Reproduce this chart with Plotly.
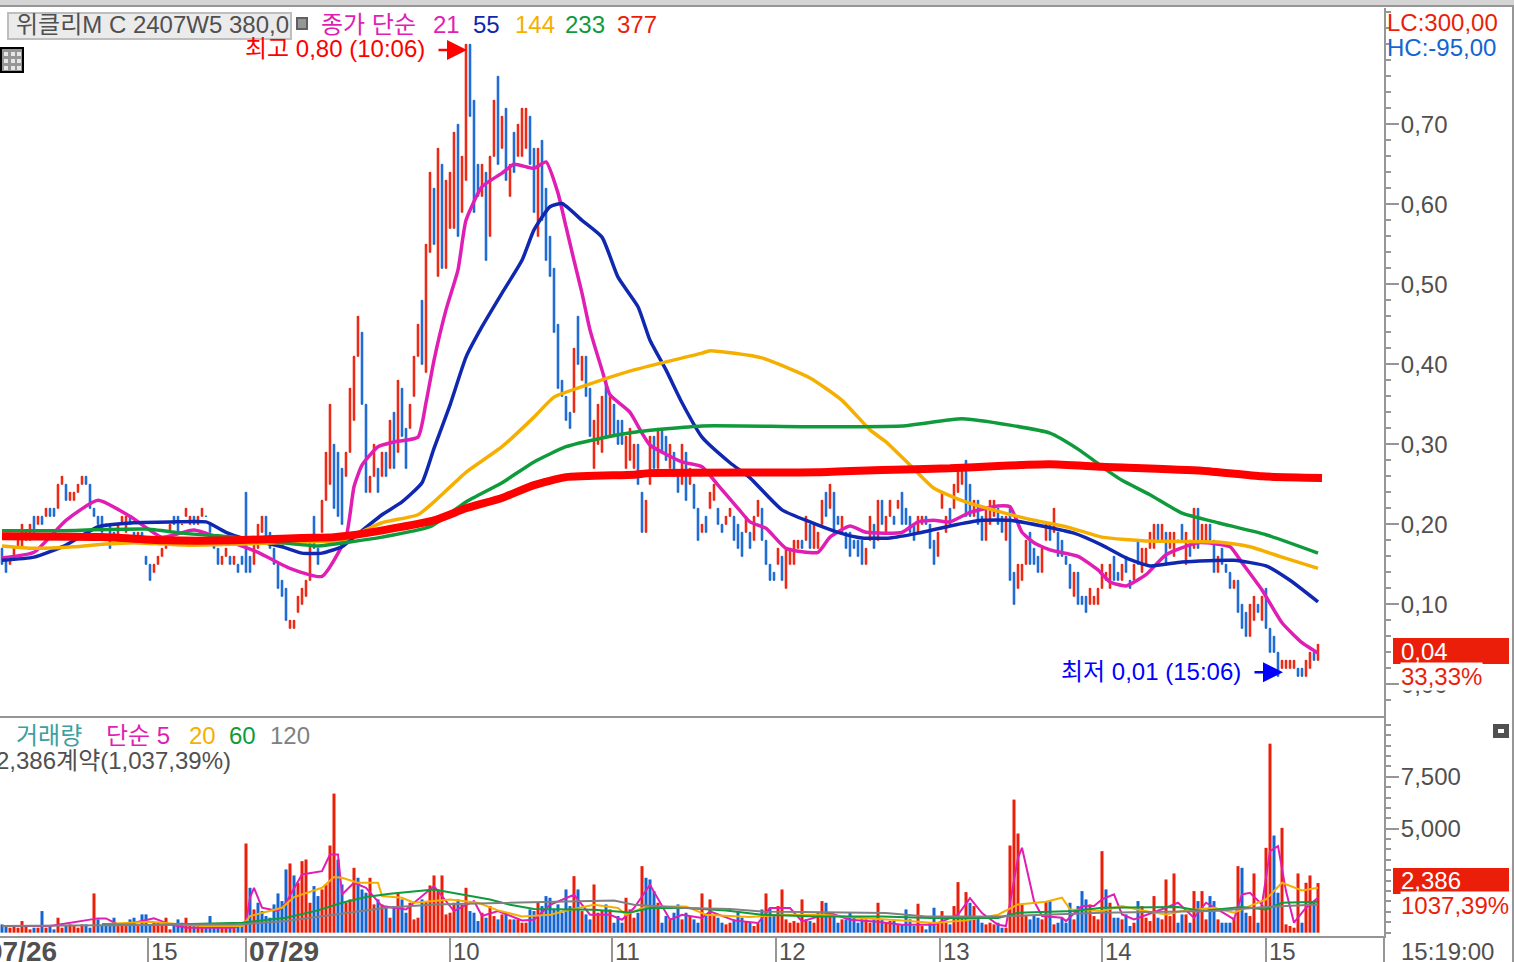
import plotly.graph_objects as go
from plotly.subplots import make_subplots

# candle open / close in hundredths, one bar about every 4 px
opens = [
    17,16,15,16,17,17,18,18,21,20, 21,21,22,22,22,25,25,23,23,24,
    25,26,25,22,21,21,20,20,19,18, 20,19,21,19,18,19,16,15,14,15,
    16,17,19,21,21,20,21,20,21,20, 21,21,20,18,17,15,16,16,15,15,
    16,24,16,15,17,19,21,19,17,15, 13,12,7,7,9,10,11,13,21,17,
    19,23,25,30,29,27,26,29,33,41, 44,35,24,26,27,26,29,27,34,29,
    37,32,32,36,41,48,39,54,62,51, 65,52,57,57,70,59,63,80,73,65,
    61,64,56,66,76,67,72,61,69,66, 66,67,71,67,56,68,62,56,52,45,
    38,36,34,34,46,38,41,37,27,30, 29,38,31,35,33,33,27,28,27,30,
    24,19,25,31,27,32,31,27,29,26, 25,29,25,25,22,19,21,22,23,22,
    20,20,21,21,20,19,19,19,18,21, 22,18,15,14,15,16,12,15,15,17,
    18,18,20,17,17,20,24,22,24,21, 19,19,19,18,18,18,15,18,20,18,
    23,19,21,21,22,24,22,21,20,19, 20,21,20,18,16,22,19,22,22,24,
    25,28,25,21,23,21,18,20,21,22, 21,18,22,14,12,13,15,19,17,16,
    14,18,20,19,19,18,16,15,11,14, 11,11,10,10,10,12,13,12,16,14,
    13,16,13,13,18,14,15,17,17,20, 18,19,17,16,18,20,15,18,17,22,
    18,18,20,18,14,17,15,14,12,13, 10,9,6,8,10,8,12,7,6,4,
    2,2,2,2,2,2,1,2,4,3,
]
closes = [
    15,14,16,17,18,20,19,20,19,21, 20,22,21,21,25,26,23,24,24,25,
    26,25,22,21,20,19,20,17,18,20, 21,21,20,18,19,18,15,13,15,16,
    17,18,20,20,19,20,22,21,20,21, 22,21,19,17,15,16,17,15,16,14,
    15,14,14,18,20,21,18,17,15,12, 11,8,8,8,11,12,13,18,17,15,
    23,29,35,22,21,20,29,37,41,46, 35,24,26,30,24,29,26,33,27,38,
    31,27,35,41,45,40,55,64,55,67, 52,63,64,69,56,66,80,71,59,61,
    65,53,66,73,65,71,63,65,64,70, 72,72,65,59,67,58,53,51,44,37,
    36,33,32,42,40,41,36,31,33,35, 36,31,36,31,30,30,31,32,30,25,
    19,23,31,27,32,29,28,30,26,24, 30,23,27,22,18,20,19,24,25,20,
    19,21,22,18,17,16,21,17,21,23, 18,15,13,13,17,13,17,17,18,18,
    17,21,17,20,19,23,21,25,19,20, 21,17,16,17,16,15,17,21,17,23,
    20,21,23,20,23,20,20,19,18,21, 21,20,17,15,19,24,21,20,25,27,
    27,21,21,23,20,18,22,23,23,20, 19,21,13,10,15,15,18,15,15,14,
    17,20,18,22,16,16,15,12,14,10, 10,9,12,11,12,15,14,15,13,13,
    15,14,12,15,15,17,17,19,20,18, 20,15,19,19,18,18,19,16,22,17,
    20,20,18,14,16,15,14,12,13,9, 7,6,10,11,9,11,7,4,4,1,
    3,3,3,3,1,1,3,4,3,5,
]
volumes = [
    400,320,240,320,240,560,320,160,240,240, 1040,240,320,160,720,240,320,400,320,240,
    400,400,240,1888,640,320,400,320,720,320, 400,320,640,720,320,880,880,400,480,480,
    400,720,160,320,640,480,720,320,320,320, 400,320,800,400,320,240,240,320,320,320,
    400,4288,2160,1120,1440,1040,800,720,1360,1888, 1520,3040,3328,2752,2400,3440,3520,1440,2240,1760,
    2080,2320,4192,6688,3520,2320,1440,1600,3120,2640, 2080,1920,2640,1360,1600,1360,1200,720,1280,1920,
    1600,960,1440,640,720,1600,1520,2272,2752,2080, 2752,880,960,1440,1600,1360,2160,1040,960,560,
    960,720,1280,800,640,880,960,640,640,640, 480,480,1120,1040,1440,1280,1760,1680,1120,1360,
    960,2080,1280,2720,2080,1040,880,640,2320,960, 1040,1360,1120,480,800,480,1680,1120,720,960,
    3200,2640,2560,2000,1440,480,800,640,960,1360, 640,960,800,640,480,1888,800,1600,800,720,
    480,400,480,640,1040,720,560,480,320,480, 1120,1888,1200,880,1280,2080,640,480,560,480,
    1600,640,560,480,960,1520,1440,960,800,480, 640,640,960,800,480,640,640,480,640,1440,
    640,480,560,560,400,400,1120,640,320,1392, 320,160,480,1200,480,1040,480,400,1280,2432,
    800,1952,1440,1280,800,480,400,480,400,480, 240,240,4192,6400,4768,1360,800,640,800,720,
    640,1520,1520,400,480,720,480,1440,640,1280, 2000,1600,1360,800,640,3920,2080,1440,720,720,
    640,880,320,480,1520,1280,720,560,1760,720, 640,2560,800,2848,480,880,880,480,2000,1520,
    2000,640,1760,1520,640,480,480,480,720,3200, 3120,960,800,2848,480,1360,4080,9088,4672,1920,
    5040,400,320,240,2848,480,2400,2752,1440,2386,
]
# bars whose volume colour differs from the candle drawn at that slot
red_vol_bars = [23, 61, 72, 75, 76, 82, 83, 88, 92, 108, 110, 116, 143, 148, 160, 175, 191, 195,
                200, 205, 229, 239, 241, 252, 253, 254, 275, 291, 293, 300, 309, 313, 316, 317, 320, 324, 327, 329]
blue_vol_bars = [62, 64, 65, 70, 73, 78, 84, 89, 161, 162, 163, 206, 276, 310, 318]

ma21_x = [0,8,16,24,32,40,48,56,64,72,80,86,88,90,94,98,104,106,108,111,114,116,120,125,128,133,136,139,141,143,145,147,
          150,152,157,160,162,170,175,179,184,187,191,196,204,207,212,216,225,229,233,237,242,249,252,255,258,262,269,274,
          277,281,286,291,299,307,310,315,320,325,329]
ma21 = [.158,.165,.205,.230,.210,.184,.193,.180,.165,.145,.135,.184,.247,.274,.297,.303,.309,.352,.405,.468,.518,.580,
        .622,.639,.650,.645,.653,.614,.572,.530,.489,.443,.393,.362,.340,.314,.299,.278,.272,.249,.220,.203,.195,.170,
        .165,.184,.198,.190,.190,.203,.205,.203,.215,.223,.222,.190,.177,.168,.160,.143,.128,.123,.137,.162,.177,.172,
        .152,.118,.077,.052,.039]
ma55_x = [0,8,16,24,33,42,51,56,60,70,75,80,85,88,95,100,105,108,112,116,120,125,130,133,137,140,145,150,154,159,162,166,
          170,175,182,187,195,202,209,215,222,229,237,245,252,260,268,275,281,287,295,308,316,322,329]
ma55 = [.155,.159,.174,.197,.202,.203,.203,.190,.183,.172,.164,.164,.172,.184,.212,.228,.252,.295,.349,.409,.447,.489,
        .530,.568,.597,.601,.580,.559,.509,.472,.430,.393,.352,.309,.277,.258,.218,.203,.190,.183,.183,.189,.198,.205,
        .205,.198,.189,.174,.158,.148,.153,.155,.148,.130,.103]
ma144_x = [0,8,18,25,33,46,75,85,95,104,108,116,125,133,138,145,158,175,177,190,202,210,217,221,227,233,241,250,258,266,
           275,287,304,312,320,329]
ma144 = [.173,.170,.172,.175,.177,.174,.178,.180,.202,.212,.228,.265,.297,.334,.359,.372,.393,.414,.417,.408,.383,.355,
         .318,.303,.274,.245,.228,.215,.205,.197,.184,.179,.178,.172,.159,.145]
ma233_x = [0,13,36,45,58,70,79,87,95,107,116,125,133,141,150,158,175,200,225,240,252,262,269,277,280,287,295,304,316,329]
ma233 = [.192,.192,.194,.189,.184,.177,.173,.178,.184,.197,.228,.252,.278,.297,.308,.315,.323,.322,.323,.332,.324,.314,
         .294,.265,.255,.237,.214,.202,.187,.164]
ma377_x = [0,25,41,58,75,83,91,108,116,125,133,141,158,162,204,220,237,249,262,275,300,315,330]
ma377 = [.185,.184,.180,.180,.183,.184,.189,.205,.220,.233,.249,.259,.262,.264,.265,.268,.270,.273,.275,.272,.267,.260,.258]

# volume moving averages
vol5_x = [0,12,24,26,29,33,38,42,46,58,61,62,63,65,69,71,75,80,82,84,85,88,91,95,101,108,113,118,120,124,130,133,137,143,
          147,152,155,158,162,167,170,175,177,183,189,192,197,200,207,212,218,225,233,239,242,245,249,251,254,255,258,260,
          265,266,270,273,275,278,280,283,291,294,298,301,306,308,310,312,315,317,319,321,323,326,329]
vol5 = [320,320,688,688,400,480,688,400,240,240,480,1680,2160,1200,1040,1440,2800,2960,3760,3760,1840,2400,2160,1280,
        1120,2240,1040,1520,800,1040,592,624,1344,1824,864,864,624,1184,2304,624,864,704,1024,592,464,1184,1184,544,944,
        624,544,384,384,864,1664,944,384,320,3600,4080,1520,800,720,560,1280,1280,1600,1840,880,640,1200,1440,720,1440,
        880,640,1840,1920,1360,3920,4160,2000,480,1200,1680]
vol20_x = [25,37,50,60,62,70,73,80,83,85,89,94,95,100,103,112,119,124,130,137,142,148,154,156,161,171,176,187,195,205,215,
           225,233,241,249,254,261,265,267,275,280,285,291,295,303,308,313,316,320,325,329]
vol20 = [400,528,320,320,800,1200,1712,2160,2672,2640,2400,2400,1760,1680,1440,1600,1440,1072,784,864,1104,1344,1184,864,
         1264,1264,864,752,864,864,704,592,464,592,864,1360,1488,1680,1120,1040,1280,1072,880,1040,1200,960,1360,1600,
         2400,2032,2160]
vol60_x = [25,37,60,71,79,85,91,97,108,116,122,127,133,148,157,162,171,181,190,204,220,232,249,254,268,275,283,294,300,
           310,316,320,329]
vol60 = [400,368,480,720,1072,1440,1712,1872,2080,1808,1600,1344,1136,1104,976,1184,1184,1072,864,784,784,704,704,960,
         1040,1200,1200,1232,1040,1232,1120,1440,1488]
vol120_x = [0,60,71,86,96,108,124,153,158,171,182,190,221,231,249,275,303,316,329]
vol120 = [320,400,560,960,1200,1360,1440,1552,1344,1184,1136,1024,944,784,784,960,1040,1232,1360]

# time axis
hour_ticks = [36.5, 61, 112, 152.5, 193.5, 234.5, 275, 316]
hour_labels = ["15", "<b>07/29</b>", "10", "11", "12", "13", "14", "15"]
price_ticks = [0.0, 0.1, 0.2, 0.3, 0.4, 0.5, 0.6, 0.7]
price_labels = ["0,00", "0,10", "0,20", "0,30", "0,40", "0,50", "0,60", "0,70"]
vol_ticks = [5000, 7500]
vol_labels = ["5,000", "7,500"]

W, H, PLOT_W = 1514, 962, 1384
FONT = "Liberation Sans, Noto Sans CJK KR, sans-serif"
SIZE = 24
RED = "#EB1E0A"
BLUE = "#1464D2"
GRAY = "#969696"
TXT = "#505050"
MAGENTA = "#E01EB4"
NAVY = "#0F28AF"
ORANGE = "#F5AF00"
GREEN = "#0F9B3C"
LINE_RED = "#FF0000"

bar_x = list(range(len(opens)))
highs = [max(a, b) / 100 for a, b in zip(opens, closes)]
lows = [min(a, b) / 100 for a, b in zip(opens, closes)]

vol_colors = [RED if c > o else BLUE for o, c in zip(opens, closes)]
for i in red_vol_bars:
    vol_colors[i] = RED
for i in blue_vol_bars:
    vol_colors[i] = BLUE

fig = make_subplots(rows=2, cols=1, shared_xaxes=True)

fig.add_trace(go.Candlestick(
    x=bar_x,
    open=[v / 100 for v in opens],
    high=highs,
    low=lows,
    close=[v / 100 for v in closes],
    increasing=dict(line=dict(color=RED, width=1), fillcolor=RED),
    decreasing=dict(line=dict(color=BLUE, width=1), fillcolor=BLUE),
    whiskerwidth=0,
), row=1, col=1)

for xs, ys, color, width in [
    (ma21_x, ma21, MAGENTA, 3.5),
    (ma55_x, ma55, NAVY, 3.5),
    (ma144_x, ma144, ORANGE, 3.5),
    (ma233_x, ma233, GREEN, 3.5),
    (ma377_x, ma377, LINE_RED, 8),
]:
    fig.add_trace(go.Scatter(x=xs, y=ys, mode="lines",
                             line=dict(color=color, width=width, shape="spline", smoothing=0.5)), row=1, col=1)

fig.add_trace(go.Bar(x=bar_x, y=volumes, marker=dict(color=vol_colors, line=dict(width=0)), width=0.75), row=2, col=1)

for xs, ys, color in [
    (vol5_x, vol5, MAGENTA),
    (vol20_x, vol20, ORANGE),
    (vol60_x, vol60, GREEN),
    (vol120_x, vol120, "#808080"),
]:
    fig.add_trace(go.Scatter(x=xs, y=ys, mode="lines", line=dict(color=color, width=2)), row=2, col=1)


def text(x, y, s, color=TXT, size=SIZE, bg=None):
    fig.add_annotation(xref="paper", yref="paper", x=x / PLOT_W, y=1 - y / H, text=s, showarrow=False,
                       xanchor="left", yanchor="middle", bgcolor=bg, borderpad=0,
                       font=dict(family=FONT, size=size, color=color))


def box(x0, y0, x1, y1, fill=None, line=None):
    fig.add_shape(type="rect", xref="paper", yref="paper", x0=x0 / PLOT_W, x1=x1 / PLOT_W, y0=1 - y0 / H, y1=1 - y1 / H,
                  fillcolor=fill, line=dict(color=line, width=2) if line else dict(width=0), layer="above")


# window chrome
box(0, 0, W, 5, fill="#D4D4D4")
box(0, 5, W, 7, fill=GRAY)
box(1512, 5, 1514, H, fill=GRAY)
box(1383, 937, 1385, H, fill=GRAY)

# header
box(8, 13, 291, 39, fill="#EBEBEB", line="#BEBEBE")
box(297, 18, 307, 29, fill=GRAY, line="#606060")
box(1, 48, 23, 72, fill="#969696", line="#000000")
for cell_y in (52, 59, 66):
    for cell_x in (4, 11, 17):
        box(cell_x, cell_y, cell_x + 4, cell_y + 4, fill="#E6E6E6")
text(15, 25, "위클리M C 2407W5 380,0")
text(320, 25, "종가 단순", MAGENTA)
text(432, 25, "21", MAGENTA)
text(472, 25, "55", NAVY)
text(514, 25, "144", ORANGE)
text(564, 25, "233", GREEN)
text(616, 25, "377", RED)
text(244, 49, "최고 0,80 (10:06)", "#FF0000")
text(1060, 671, "최저 0,01 (15:06)", "#0000FF")
fig.add_annotation(x=116.25, y=0.793, ax=-30, ay=0, text="", showarrow=True, arrowhead=2, arrowsize=1.6, arrowwidth=2.5,
                   arrowcolor="#FF0000", xref="x", yref="y")
fig.add_annotation(x=320.25, y=0.015, ax=-30, ay=0, text="", showarrow=True, arrowhead=2, arrowsize=1.6, arrowwidth=2.5,
                   arrowcolor="#0000FF", xref="x", yref="y")
text(1386, 22, "LC:300,00", RED)
text(1386, 47, "HC:-95,00", BLUE)

# last price and volume tags
box(1393, 638, 1509, 664, fill=RED)
text(1400, 651, "0,04", "#FFFFFF")
text(1400, 676, "33,33%", RED, bg="#FFFFFF")
box(1393, 868, 1509, 894, fill=RED)
text(1400, 880, "2,386", "#FFFFFF")
text(1400, 905, "1037,39%", RED, bg="#FFFFFF")
box(1493, 724, 1509, 738, fill="#505050")
box(1498, 729, 1504, 733, fill="#FFFFFF")

# volume header
text(15, 735, "거래량", "#3C9FA0")
text(105, 735, "단순 5", MAGENTA)
text(188, 735, "20", ORANGE)
text(228, 735, "60", GREEN)
text(269, 735, "120", "#808080")
text(-5, 760, "2,386계약(1,037,39%)")

# time labels
text(-14, 951, "<b>07/26</b>", size=28)
for tick, label in zip(hour_ticks, hour_labels):
    text(2 + 4 * tick + 2, 951, label, size=28 if label.startswith("<b>") else SIZE)
text(1400, 951, "15:19:00")

fig.update_layout(
    width=W, height=H,
    margin=dict(l=0, r=W - PLOT_W, t=0, b=0),
    autosize=False,
    showlegend=False,
    paper_bgcolor="white",
    plot_bgcolor="white",
    boxgap=0.45,
    xaxis=dict(domain=[0, 1], range=[-0.5, 345.5], rangeslider=dict(visible=False), showgrid=False, zeroline=False,
               showticklabels=False, ticks="", showline=True, linecolor=GRAY, linewidth=2),
    xaxis2=dict(domain=[0, 1], range=[-0.5, 345.5], showgrid=False, zeroline=False, showticklabels=False,
                tickmode="array", tickvals=hour_ticks, ticks="outside", ticklen=25, tickcolor=GRAY, tickwidth=2,
                showline=True, linecolor=GRAY, linewidth=2),
    yaxis=dict(domain=[1 - 716 / H, 1 - 8 / H], range=[-0.0396, 0.8454], side="right", showgrid=False, zeroline=False,
               tickmode="array", tickvals=price_ticks, ticktext=price_labels, ticks="outside", ticklen=13,
               ticklabelstandoff=-3,
               tickcolor=GRAY, tickwidth=2, tickfont=dict(family=FONT, size=SIZE, color=TXT),
               minor=dict(tick0=0, dtick=0.02, ticks="outside", ticklen=5, tickcolor=GRAY, tickwidth=2),
               showline=True, linecolor=GRAY, linewidth=2),
    yaxis2=dict(domain=[1 - 936 / H, 1 - 718 / H], range=[-159, 10322], side="right", showgrid=False, zeroline=False,
                tickmode="array", tickvals=vol_ticks, ticktext=vol_labels, ticks="outside", ticklen=13,
                ticklabelstandoff=-3,
                tickcolor=GRAY, tickwidth=2, tickfont=dict(family=FONT, size=SIZE, color=TXT),
                minor=dict(tick0=0, dtick=500, ticks="outside", ticklen=5, tickcolor=GRAY, tickwidth=2),
                showline=True, linecolor=GRAY, linewidth=2),
)

# body margin would push the fixed-size figure out of the window
fig.write_html("out.html", config={"displayModeBar": False}, post_script="document.body.style.margin='0';")
